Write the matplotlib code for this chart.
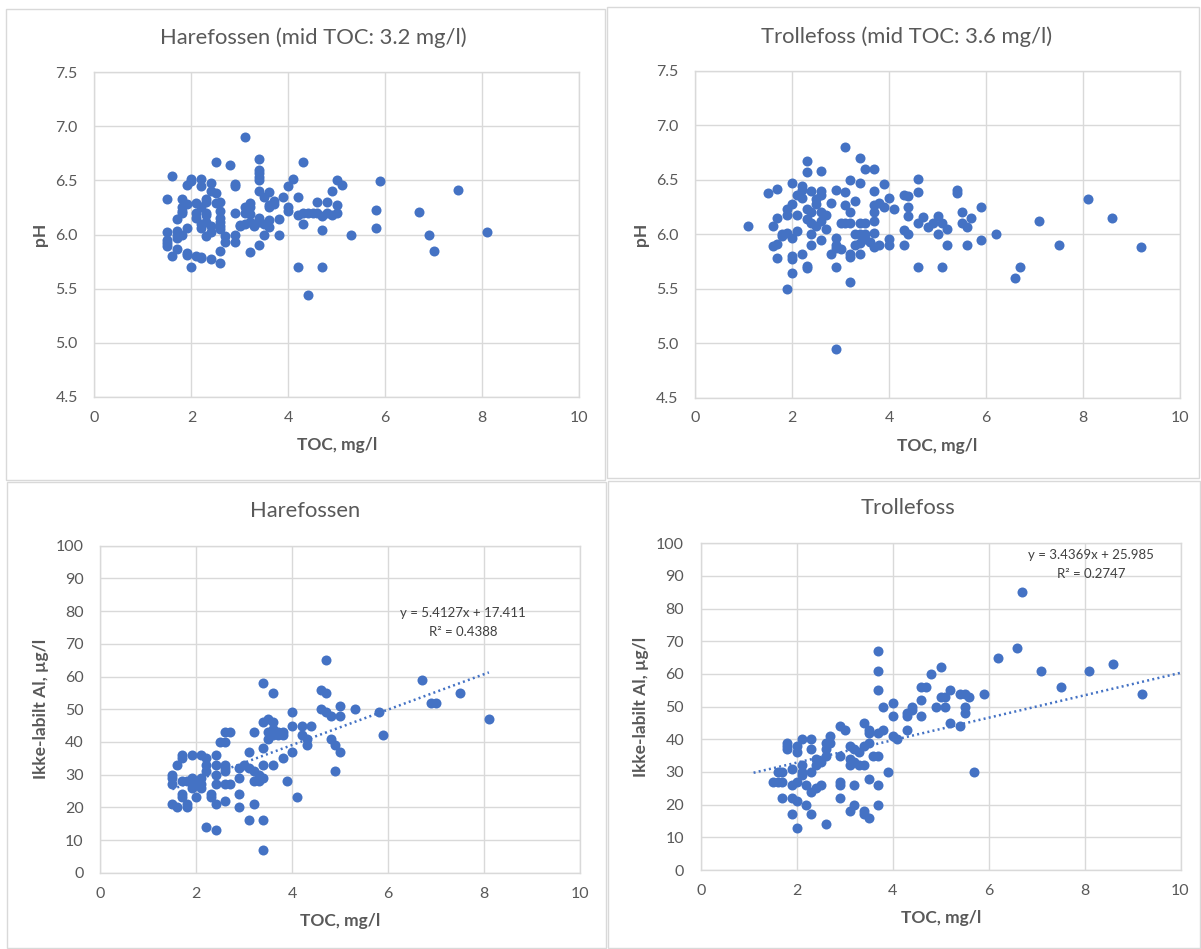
import numpy as np
import matplotlib
matplotlib.use("Agg")
import matplotlib.pyplot as plt
from matplotlib.patches import Rectangle

plt.rcParams['font.family'] = ['Lato', 'DejaVu Sans']

# pH vs TOC, Harefossen
hare_ph_toc = [
    1.5, 1.5, 1.5, 1.5, 1.5, 1.6, 1.6,
    1.7, 1.7, 1.7, 1.7, 1.7,
    1.8, 1.8, 1.8, 1.8, 1.8,
    1.9, 1.9, 1.9, 1.9, 1.9,
    2.0, 2.0, 2.0,
    2.1, 2.1, 2.1, 2.1,
    2.2, 2.2, 2.2, 2.2, 2.2, 2.2, 2.2,
    2.3, 2.3, 2.3, 2.3, 2.3, 2.3,
    2.4, 2.4, 2.4, 2.4, 2.4,
    2.5, 2.5, 2.5,
    2.6, 2.6, 2.6, 2.6, 2.6, 2.6, 2.6, 2.6,
    2.7, 2.7, 2.8,
    2.9, 2.9, 2.9, 2.9, 2.9,
    3.0, 3.0,
    3.1, 3.1, 3.1, 3.1,
    3.2, 3.2, 3.2, 3.2, 3.2,
    3.3, 3.3,
    3.4, 3.4, 3.4, 3.4, 3.4, 3.4, 3.4, 3.4, 3.4,
    3.5, 3.5, 3.5,
    3.6, 3.6, 3.6, 3.6, 3.6,
    3.7, 3.7, 3.8, 3.8, 3.9,
    4.0, 4.0, 4.0, 4.1,
    4.2, 4.2, 4.2, 4.3, 4.3, 4.3,
    4.4, 4.4, 4.5, 4.6, 4.6,
    4.7, 4.7, 4.7, 4.8, 4.8, 4.9, 4.9,
    5.0, 5.0, 5.0, 5.1, 5.3, 5.8, 5.8, 5.9,
    6.7, 6.9, 7.0, 7.5, 8.1]
hare_ph = [
    6.33, 6.02, 5.95, 5.92, 5.89, 6.54, 5.80,
    6.14, 6.03, 6.00, 5.97, 5.87,
    6.33, 6.25, 6.22, 6.20, 6.00,
    6.46, 6.28, 6.06, 5.83, 5.81,
    6.51, 6.49, 5.70,
    6.29, 6.20, 6.15, 5.80,
    6.51, 6.45, 6.25, 6.10, 6.06, 5.78, 5.79,
    6.33, 6.30, 6.20, 6.18, 6.12, 5.99,
    6.48, 6.40, 6.08, 6.02, 5.77,
    6.67, 6.38, 6.29,
    6.30, 6.22, 6.15, 6.12, 6.08, 6.05, 5.85, 5.74,
    5.99, 5.93, 6.64,
    6.47, 6.45, 6.20, 6.00, 5.93,
    6.08, 6.09,
    6.90, 6.25, 6.20, 6.10,
    6.29, 6.25, 6.19, 6.12, 5.84,
    6.10, 6.08,
    6.70, 6.60, 6.57, 6.53, 6.50, 6.40, 6.15, 6.12, 5.90,
    6.35, 6.10, 6.00,
    6.39, 6.27, 6.25, 6.13, 6.07,
    6.31, 6.28, 6.14, 6.00, 6.35,
    6.45, 6.25, 6.22, 6.51,
    6.35, 6.18, 5.70, 6.67, 6.20, 6.10,
    6.20, 5.44, 6.20, 6.30, 6.20,
    6.17, 6.04, 5.70, 6.30, 6.20, 6.40, 6.18,
    6.50, 6.27, 6.20, 6.46, 6.00, 6.23, 6.06, 6.49,
    6.21, 6.00, 5.85, 6.41, 6.02]

# pH vs TOC, Trollefoss
troll_ph_toc = [
    1.1, 1.5, 1.6, 1.6,
    1.7, 1.7, 1.7, 1.7,
    1.8, 1.8,
    1.9, 1.9, 1.9, 1.9,
    2.0, 2.0, 2.0, 2.0, 2.0, 2.0,
    2.1, 2.1, 2.1,
    2.2, 2.2, 2.2, 2.2,
    2.3, 2.3, 2.3, 2.3, 2.3, 2.3,
    2.4, 2.4, 2.4, 2.4, 2.4,
    2.5, 2.5, 2.5,
    2.6, 2.6, 2.6, 2.6, 2.6, 2.6,
    2.7, 2.7, 2.8, 2.8,
    2.9, 2.9, 2.9, 2.9, 2.9, 2.9,
    3.0, 3.0,
    3.1, 3.1, 3.1, 3.1,
    3.2, 3.2, 3.2, 3.2, 3.2, 3.2,
    3.3, 3.3, 3.3,
    3.4, 3.4, 3.4, 3.4, 3.4, 3.4,
    3.5, 3.5, 3.5, 3.5, 3.6,
    3.7, 3.7, 3.7, 3.7, 3.7, 3.7, 3.7,
    3.8, 3.8, 3.9, 3.9,
    4.0, 4.0, 4.0, 4.1,
    4.3, 4.3, 4.3,
    4.4, 4.4, 4.4, 4.4,
    4.6, 4.6, 4.6, 4.6,
    4.7, 4.8, 4.9, 5.0, 5.0,
    5.1, 5.1, 5.2, 5.2,
    5.4, 5.4, 5.5, 5.5, 5.6, 5.6, 5.7, 5.9, 5.9,
    6.2, 6.6, 6.7, 7.1, 7.5, 8.1, 8.6, 9.2]
troll_ph = [
    6.08, 6.38, 6.08, 5.89,
    6.42, 6.15, 5.91, 5.78,
    6.00, 5.98,
    6.23, 6.18, 6.01, 5.50,
    6.47, 6.28, 5.97, 5.80, 5.77, 5.64,
    6.36, 6.18, 6.03,
    6.44, 6.41, 6.33, 5.82,
    6.67, 6.57, 6.23, 6.14, 5.71, 5.69,
    6.40, 6.20, 6.10, 6.00, 5.90,
    6.32, 6.28, 6.08,
    6.58, 6.40, 6.36, 6.20, 6.12, 5.95,
    6.18, 6.05, 6.29, 5.82,
    6.41, 5.97, 5.90, 5.87, 5.70, 4.95,
    6.10, 5.86,
    6.80, 6.39, 6.27, 6.10,
    6.50, 6.20, 6.10, 5.82, 5.79, 5.56,
    6.31, 6.00, 5.90,
    6.70, 6.47, 6.10, 6.00, 5.92, 5.82,
    6.60, 6.10, 6.00, 5.96, 5.93,
    6.60, 6.40, 6.27, 6.20, 6.12, 6.01, 5.88,
    6.29, 5.90, 6.46, 6.25,
    6.33, 5.96, 5.90, 6.23,
    6.36, 6.04, 5.90,
    6.35, 6.25, 6.17, 6.00,
    6.51, 6.39, 6.10, 5.70,
    6.16, 6.07, 6.10, 6.17, 6.00,
    6.10, 5.70, 6.05, 5.90,
    6.41, 6.38, 6.20, 6.10, 6.07, 5.90, 6.15, 6.25, 5.95,
    6.00, 5.60, 5.70, 6.12, 5.90, 6.32, 6.15, 5.88]

# Ikke-labilt Al vs TOC, Harefossen
hare_al_toc = [
    1.5, 1.5, 1.5, 1.5, 1.6, 1.6,
    1.7, 1.7, 1.7, 1.7, 1.7,
    1.8, 1.8, 1.8,
    1.9, 1.9, 1.9, 1.9,
    2.0, 2.0, 2.0,
    2.1, 2.1, 2.1, 2.1,
    2.2, 2.2, 2.2, 2.2,
    2.3, 2.3,
    2.4, 2.4, 2.4, 2.4, 2.4, 2.4,
    2.5,
    2.6, 2.6, 2.6, 2.6, 2.6, 2.6, 2.6,
    2.7, 2.7,
    2.9, 2.9, 2.9, 2.9,
    3.0,
    3.1, 3.1, 3.1,
    3.2, 3.2, 3.2, 3.2,
    3.3, 3.3,
    3.4, 3.4, 3.4, 3.4, 3.4, 3.4, 3.4,
    3.5, 3.5, 3.5,
    3.6, 3.6, 3.6, 3.6, 3.6,
    3.7, 3.7, 3.8, 3.8, 3.8, 3.9,
    4.0, 4.0, 4.0, 4.1,
    4.2, 4.2, 4.3, 4.3, 4.4,
    4.6, 4.6, 4.7, 4.7, 4.7,
    4.8, 4.8, 4.9, 4.9,
    5.0, 5.0, 5.0, 5.3, 5.8, 5.9,
    6.7, 6.9, 7.0, 7.5, 8.1]
hare_al = [
    30, 29, 27, 21, 33, 20,
    36, 35, 28, 24, 23,
    28, 21, 20,
    36, 29, 27, 26,
    28, 27, 23,
    36, 29, 27, 26,
    35, 33, 31, 14,
    24, 23,
    36, 33, 30, 27, 21, 13,
    40,
    43, 40, 33, 32, 31, 27, 22,
    43, 27,
    32, 29, 24, 20,
    33,
    37, 32, 16,
    43, 31, 28, 21,
    30, 28,
    58, 46, 38, 33, 29, 16, 7,
    47, 43, 41,
    55, 46, 44, 42, 33,
    42, 43, 43, 42, 35, 28,
    49, 45, 37, 23,
    45, 42, 41, 39, 45,
    56, 50, 65, 55, 49,
    48, 41, 39, 31,
    51, 48, 37, 50, 49, 42,
    59, 52, 52, 55, 47]

# Ikke-labilt Al vs TOC, Trollefoss
troll_al_toc = [
    1.5, 1.6, 1.6, 1.7, 1.7, 1.7,
    1.8, 1.8, 1.8,
    1.9, 1.9, 1.9, 1.9,
    2.0, 2.0, 2.0, 2.0, 2.0,
    2.1, 2.1, 2.1, 2.1,
    2.2, 2.2,
    2.3, 2.3, 2.3, 2.3, 2.3,
    2.4, 2.4, 2.4,
    2.5, 2.5,
    2.6, 2.6, 2.6, 2.6,
    2.7, 2.7,
    2.9, 2.9, 2.9, 2.9, 2.9,
    3.0,
    3.1, 3.1, 3.1, 3.1,
    3.2, 3.2, 3.2, 3.2,
    3.3, 3.3,
    3.4, 3.4, 3.4, 3.4, 3.4,
    3.5, 3.5, 3.5, 3.5, 3.5,
    3.6,
    3.7, 3.7, 3.7, 3.7, 3.7, 3.7, 3.7,
    3.8, 3.8, 3.9,
    4.0, 4.0, 4.0, 4.1,
    4.3, 4.3, 4.3, 4.4, 4.4,
    4.6, 4.6, 4.6, 4.7, 4.8, 4.9,
    5.0, 5.0, 5.1, 5.1, 5.2, 5.2,
    5.4, 5.4, 5.5, 5.5, 5.5, 5.6, 5.7, 5.9,
    6.2, 6.6, 6.7, 7.1, 7.5, 8.1, 8.6, 9.2]
troll_al = [
    27, 30, 27, 30, 27, 22,
    39, 38, 37,
    31, 26, 22, 17,
    38, 36, 27, 21, 13,
    40, 32, 30, 29,
    26, 20,
    40, 37, 30, 24, 17,
    34, 32, 25,
    33, 26,
    39, 37, 35, 14,
    41, 39,
    44, 35, 27, 26, 22,
    43,
    38, 34, 32, 18,
    37, 33, 26, 20,
    36, 32,
    45, 38, 32, 18, 17,
    43, 42, 39, 28, 16,
    35,
    67, 61, 55, 42, 35, 26, 20,
    50, 43, 30,
    51, 47, 41, 40,
    48, 47, 43, 50, 49,
    56, 52, 47, 56, 60, 50,
    62, 53, 53, 50, 55, 45,
    54, 44, 54, 50, 48, 53, 30, 54,
    65, 68, 85, 61, 56, 61, 63, 54]

# linear trendlines as printed on the charts
hare_slope, hare_icpt, hare_r2 = 5.4127, 17.411, 0.4388
troll_slope, troll_icpt, troll_r2 = 3.4369, 25.985, 0.2747
hare_trend_x = [1.5, 8.1]
troll_trend_x = [1.1, 10.0]

blue = "#4472C4"
grid = "#d9d9d9"
gray = "#595959"
W, H = 1201, 949

fig = plt.figure(figsize=(W / 100, H / 100), dpi=100)


def px_axes(x0, x1, y0, y1):
    return fig.add_axes([x0 / W, 1 - y1 / H, (x1 - x0) / W, (y1 - y0) / H])


def style(ax, ylim, ystep, yfmt, ylabel):
    ax.set_xlim(0, 10)
    ax.set_ylim(*ylim)
    ax.set_xticks(np.arange(0, 11, 2))
    yt = np.arange(ylim[0], ylim[1] + ystep / 2, ystep)
    ax.set_yticks(yt)
    ax.set_yticklabels([yfmt.format(v) for v in yt])
    ax.grid(True, color=grid, linewidth=1.0)
    ax.set_axisbelow(True)
    for s in ax.spines.values():
        s.set_color(grid)
        s.set_linewidth(1.0)
    ax.tick_params(length=0, labelsize=11.5, labelcolor=gray)
    ax.tick_params(axis="y", pad=12)
    ax.tick_params(axis="x", pad=10)
    ax.set_xlabel("TOC, mg/l", fontsize=12.5, fontweight="bold", color=gray, labelpad=9)
    ax.set_ylabel(ylabel, fontsize=12.5, fontweight="bold", color=gray, labelpad=5)


# chart frames
for (x0, y0, x1, y1) in [(6, 9, 605, 480), (607, 7, 1199, 478),
                         (7, 482, 606, 948), (608, 481, 1200, 948)]:
    fig.patches.append(Rectangle((x0 / W, 1 - y1 / H), (x1 - x0) / W, (y1 - y0) / H,
                                 transform=fig.transFigure, fill=False,
                                 edgecolor=grid, linewidth=1.0))

msize = 52

ax1 = px_axes(94.5, 579, 72, 397)
ax1.scatter(hare_ph_toc, hare_ph, s=msize, color=blue, zorder=3, linewidths=0)
style(ax1, (4.5, 7.5), 0.5, "{:.1f}", "pH")

ax2 = px_axes(695, 1180, 71, 397.5)
ax2.scatter(troll_ph_toc, troll_ph, s=msize, color=blue, zorder=3, linewidths=0)
style(ax2, (4.5, 7.5), 0.5, "{:.1f}", "pH")

ax3 = px_axes(100.4, 580, 545.7, 872.7)
ax3.scatter(hare_al_toc, hare_al, s=msize, color=blue, zorder=3, linewidths=0)
tx = np.array(hare_trend_x)
ax3.plot(tx, hare_slope * tx + hare_icpt, color=blue, lw=1.8,
         linestyle=(0, (0.8, 1.3)), zorder=4)
ax3.text(7.56, 79.5, f"y = {hare_slope}x + {hare_icpt}", ha="center", va="center",
         fontsize=9.5, color="#404040")
ax3.text(7.56, 73.7, f"R² = {hare_r2}", ha="center", va="center",
         fontsize=9.5, color="#404040")
style(ax3, (0, 100), 10, "{:.0f}", "Ikke-labilt Al, µg/l")

ax4 = px_axes(700.8, 1180.5, 543.3, 870)
ax4.scatter(troll_al_toc, troll_al, s=msize, color=blue, zorder=3, linewidths=0)
tx = np.array(troll_trend_x)
ax4.plot(tx, troll_slope * tx + troll_icpt, color=blue, lw=1.8,
         linestyle=(0, (0.8, 1.3)), zorder=4, clip_on=False)
ax4.text(8.13, 96.5, f"y = {troll_slope}x + {troll_icpt}", ha="center", va="center",
         fontsize=9.5, color="#404040")
ax4.text(8.13, 90.7, f"R² = {troll_r2}", ha="center", va="center",
         fontsize=9.5, color="#404040")
style(ax4, (0, 100), 10, "{:.0f}", "Ikke-labilt Al, µg/l")

# chart titles
fig.text(313 / W, 1 - 38 / H, "Harefossen (mid TOC: 3.2 mg/l)", ha="center", va="center",
         fontsize=15.8, color=gray)
fig.text(907 / W, 1 - 37 / H, "Trollefoss (mid TOC: 3.6 mg/l)", ha="center", va="center",
         fontsize=15.8, color=gray)
fig.text(305 / W, 1 - 511 / H, "Harefossen", ha="center", va="center",
         fontsize=15.8, color=gray)
fig.text(908 / W, 1 - 508 / H, "Trollefoss", ha="center", va="center",
         fontsize=15.8, color=gray)

fig.savefig("out.png", dpi=100, facecolor="white")
